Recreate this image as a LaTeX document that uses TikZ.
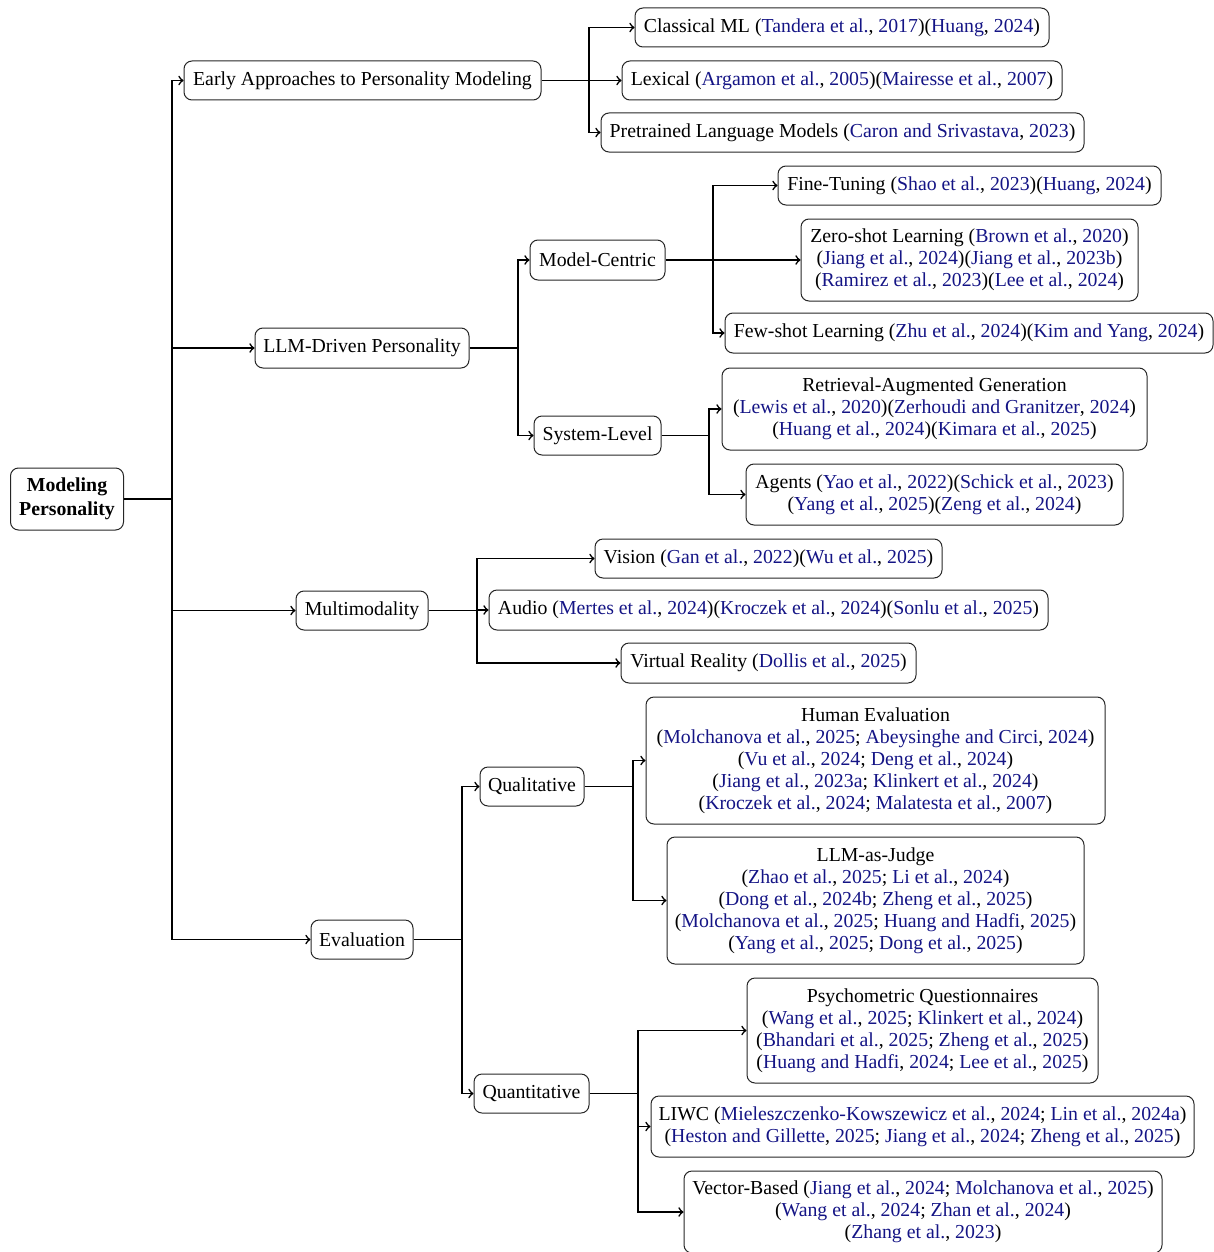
\documentclass[tikz,border=0pt]{standalone}
\usepackage{fontspec}
\setmainfont{Liberation Serif}
\definecolor{cite}{rgb}{0.08,0.08,0.52}
\newcommand{\cc}[1]{\textcolor{cite}{#1}}
\begin{document}
\begin{tikzpicture}[x=0.5pt,y=-0.5pt,
  font=\fontsize{9.9}{11}\selectfont,
  box/.style={draw=black!85, line width=0.5pt, rounded corners=4pt, align=center,
    inner xsep=2pt, inner ysep=1pt},
  conn/.style={draw=black, line width=0.8pt},
  arr/.style={conn, ->}]
\useasboundingbox (0,0) rectangle (1214,1252);

% level 0
\node[box, minimum width=56.5pt, minimum height=31pt, font=\fontsize{9.9}{12}\selectfont\bfseries] (root) at (67,499) {Modeling\\Personality};

% level 1
\node[box, minimum width=178.5pt, minimum height=19.5pt] (early) at (362.5,80.5) {Early Approaches to Personality Modeling};
\node[box, minimum width=107pt, minimum height=20pt] (llm) at (362,348) {LLM-Driven Personality};
\node[box, minimum width=66pt, minimum height=19.5pt] (multi) at (362,610.5) {Multimodality};
\node[box, minimum width=51pt, minimum height=19.5pt] (eval) at (362,939.5) {Evaluation};

% early children
\node[box, minimum width=207pt, minimum height=19.5pt] (classical) at (842,27.5) {Classical ML (\cc{Tandera et al.}, \cc{2017})(\cc{Huang}, \cc{2024})};
\node[box, minimum width=220pt, minimum height=19.5pt] (lexical) at (842,80.5) {Lexical (\cc{Argamon et al.}, \cc{2005})(\cc{Mairesse et al.}, \cc{2007})};
\node[box, minimum width=241.5pt, minimum height=19.5pt] (plm) at (842.5,132.5) {Pretrained Language Models (\cc{Caron and Srivastava}, \cc{2023})};

% llm children
\node[box, minimum width=67.5pt, minimum height=20pt] (model) at (597.5,260) {Model-Centric};
\node[box, minimum width=63.5pt, minimum height=19.5pt] (system) at (597.5,435.5) {System-Level};

\node[box, minimum width=191.5pt, minimum height=19.5pt] (fine) at (969.5,185.5) {Fine-Tuning (\cc{Shao et al.}, \cc{2023})(\cc{Huang}, \cc{2024})};
\node[box, minimum width=168.5pt, minimum height=41pt] (zero) at (969.5,260) {Zero-shot Learning (\cc{Brown et al.}, \cc{2020})\\(\cc{Jiang et al.}, \cc{2024})(\cc{Jiang et al.}, \cc{2023b})\\(\cc{Ramirez et al.}, \cc{2023})(\cc{Lee et al.}, \cc{2024})};
\node[box, minimum width=244pt, minimum height=20pt] (few) at (969,333) {Few-shot Learning (\cc{Zhu et al.}, \cc{2024})(\cc{Kim and Yang}, \cc{2024})};

\node[box, minimum width=212.5pt, minimum height=41pt] (rag) at (934.5,409) {Retrieval-Augmented Generation\\(\cc{Lewis et al.}, \cc{2020})(\cc{Zerhoudi and Granitzer}, \cc{2024})\\(\cc{Huang et al.}, \cc{2024})(\cc{Kimara et al.}, \cc{2025})};
\node[box, minimum width=188.5pt, minimum height=30.5pt] (agents) at (934.5,494.5) {Agents (\cc{Yao et al.}, \cc{2022})(\cc{Schick et al.}, \cc{2023})\\(\cc{Yang et al.}, \cc{2025})(\cc{Zeng et al.}, \cc{2024})};

% multimodality children
\node[box, minimum width=173.5pt, minimum height=19.5pt] (vision) at (768.5,558.5) {Vision (\cc{Gan et al.}, \cc{2022})(\cc{Wu et al.}, \cc{2025})};
\node[box, minimum width=279.5pt, minimum height=20pt] (audio) at (768.5,610) {Audio (\cc{Mertes et al.}, \cc{2024})(\cc{Kroczek et al.}, \cc{2024})(\cc{Sonlu et al.}, \cc{2025})};
\node[box, minimum width=147.5pt, minimum height=20pt] (vr) at (768.5,663) {Virtual Reality (\cc{Dollis et al.}, \cc{2025})};

% evaluation children
\node[box, minimum width=52pt, minimum height=19.5pt] (qual) at (532,786.5) {Qualitative};
\node[box, minimum width=57.5pt, minimum height=19.5pt] (quant) at (531.5,1093.5) {Quantitative};

\node[box, minimum width=229.5pt, minimum height=63.5pt] (human) at (875.5,760.5) {Human Evaluation\\(\cc{Molchanova et al.}, \cc{2025}; \cc{Abeysinghe and Circi}, \cc{2024})\\(\cc{Vu et al.}, \cc{2024}; \cc{Deng et al.}, \cc{2024})\\(\cc{Jiang et al.}, \cc{2023a}; \cc{Klinkert et al.}, \cc{2024})\\(\cc{Kroczek et al.}, \cc{2024}; \cc{Malatesta et al.}, \cc{2007})};
\node[box, minimum width=208.5pt, minimum height=63.5pt] (judge) at (875.5,900.5) {LLM-as-Judge\\(\cc{Zhao et al.}, \cc{2025}; \cc{Li et al.}, \cc{2024})\\(\cc{Dong et al.}, \cc{2024b}; \cc{Zheng et al.}, \cc{2025})\\(\cc{Molchanova et al.}, \cc{2025}; \cc{Huang and Hadfi}, \cc{2025})\\(\cc{Yang et al.}, \cc{2025}; \cc{Dong et al.}, \cc{2025})};

\node[box, minimum width=175.5pt, minimum height=52.5pt] (psych) at (922.5,1030.5) {Psychometric Questionnaires\\(\cc{Wang et al.}, \cc{2025}; \cc{Klinkert et al.}, \cc{2024})\\(\cc{Bhandari et al.}, \cc{2025}; \cc{Zheng et al.}, \cc{2025})\\(\cc{Huang and Hadfi}, \cc{2024}; \cc{Lee et al.}, \cc{2025})};
\node[box, minimum width=271.5pt, minimum height=30.5pt] (liwc) at (922.5,1126.5) {LIWC (\cc{Mieleszczenko-Kowszewicz et al.}, \cc{2024}; \cc{Lin et al.}, \cc{2024a})\\(\cc{Heston and Gillette}, \cc{2025}; \cc{Jiang et al.}, \cc{2024}; \cc{Zheng et al.}, \cc{2025})};
\node[box, minimum width=239pt, minimum height=41pt] (vector) at (923,1212) {Vector-Based (\cc{Jiang et al.}, \cc{2024}; \cc{Molchanova et al.}, \cc{2025})\\(\cc{Wang et al.}, \cc{2024}; \cc{Zhan et al.}, \cc{2024})\\(\cc{Zhang et al.}, \cc{2023})};

% branch points
\coordinate (b0) at (172,499);
\coordinate (b1) at (589,80.5);
\coordinate (b2) at (518,348);
\coordinate (b3) at (713,260);
\coordinate (b4) at (709,435.5);
\coordinate (b5) at (477,610.5);
\coordinate (b6) at (462,939.5);
\coordinate (b7) at (633,786.5);
\coordinate (b8) at (638,1093.5);

% connectors
\draw[conn] (root.east) -- (b0);
\draw[arr] (b0) |- (early.west);
\draw[arr] (b0) |- (llm.west);
\draw[arr] (b0) |- (multi.west);
\draw[arr] (b0) |- (eval.west);

\draw[conn] (early.east) -- (b1);
\draw[arr] (b1) |- (classical.west);
\draw[arr] (b1) |- (lexical.west);
\draw[arr] (b1) |- (plm.west);

\draw[conn] (llm.east) -- (b2);
\draw[arr] (b2) |- (model.west);
\draw[arr] (b2) |- (system.west);

\draw[conn] (model.east) -- (b3);
\draw[arr] (b3) |- (fine.west);
\draw[arr] (b3) |- (zero.west);
\draw[arr] (b3) |- (few.west);

\draw[conn] (system.east) -- (b4);
\draw[arr] (b4) |- (rag.west);
\draw[arr] (b4) |- (agents.west);

\draw[conn] (multi.east) -- (b5);
\draw[arr] (b5) |- (vision.west);
\draw[arr] (b5) |- (audio.west);
\draw[arr] (b5) |- (vr.west);

\draw[conn] (eval.east) -- (b6);
\draw[arr] (b6) |- (qual.west);
\draw[arr] (b6) |- (quant.west);

\draw[conn] (qual.east) -- (b7);
\draw[arr] (b7) |- (human.west);
\draw[arr] (b7) |- (judge.west);

\draw[conn] (quant.east) -- (b8);
\draw[arr] (b8) |- (psych.west);
\draw[arr] (b8) |- (liwc.west);
\draw[arr] (b8) |- (vector.west);
\end{tikzpicture}
\end{document}
